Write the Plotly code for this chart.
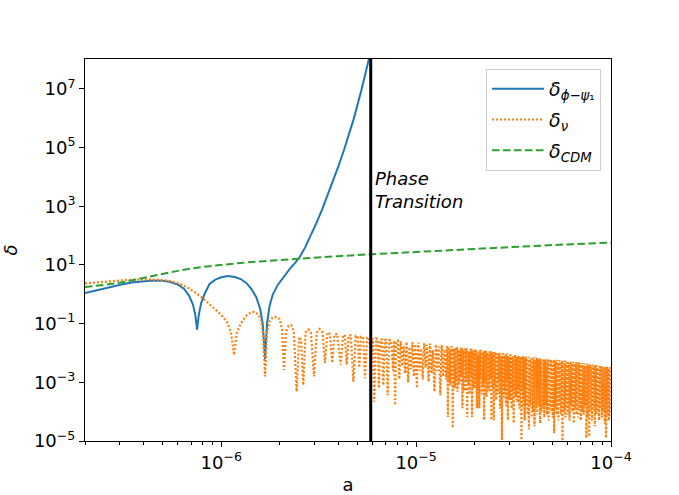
import numpy as np
import plotly.graph_objects as go

# values, stored as log10(a), log10(delta)
blue_log_a = [-6.699, -6.65, -6.60, -6.55, -6.50, -6.45, -6.40, -6.35, -6.30, -6.26,
              -6.22, -6.19, -6.165, -6.145, -6.133, -6.124, -6.115, -6.103, -6.085, -6.06,
              -6.03, -6.00, -5.965, -5.93, -5.90, -5.87, -5.845, -5.82, -5.80, -5.787,
              -5.775, -5.765, -5.752, -5.735, -5.71, -5.68, -5.65, -5.62, -5.60, -5.57,
              -5.54, -5.51, -5.48, -5.44, -5.40, -5.37, -5.32, -5.28, -5.242, -5.232]
blue_log_delta = [0.04, 0.12, 0.20, 0.28, 0.35, 0.41, 0.45, 0.47, 0.46, 0.42,
                  0.32, 0.18, -0.05, -0.35, -0.70, -1.20, -0.70, -0.30, 0.02, 0.35,
                  0.50, 0.58, 0.62, 0.59, 0.52, 0.38, 0.18, -0.10, -0.50, -1.00,
                  -2.20, -1.00, -0.40, 0.00, 0.32, 0.60, 0.85, 1.08, 1.24, 1.59,
                  2.00, 2.45, 2.93, 3.62, 4.34, 4.92, 5.98, 6.98, 7.99, 8.30]

green_log_a = [-6.699, -6.60, -6.50, -6.40, -6.30, -6.20, -6.10, -6.00, -5.90, -5.80, -5.70,
               -5.60, -5.50, -5.40, -5.30, -5.20, -5.00, -4.80, -4.60, -4.40, -4.20, -4.00]
green_log_delta = [0.25, 0.32, 0.42, 0.55, 0.70, 0.83, 0.93, 1.01, 1.07, 1.12, 1.17,
                   1.22, 1.26, 1.30, 1.34, 1.37, 1.44, 1.51, 1.58, 1.65, 1.71, 1.76]

nu_early = [
    (-6.699, 0.37), (-6.60, 0.43), (-6.50, 0.48), (-6.40, 0.51), (-6.33, 0.50), (-6.27, 0.46),
    (-6.22, 0.38), (-6.17, 0.22), (-6.12, 0.00), (-6.08, -0.22), (-6.04, -0.45), (-6.00, -0.70),
    (-5.97, -0.95), (-5.95, -1.30), (-5.934, -2.07), (-5.92, -1.30), (-5.90, -1.00), (-5.875, -0.75),
    (-5.85, -0.62), (-5.83, -0.60), (-5.81, -0.68), (-5.795, -0.90), (-5.785, -1.40), (-5.775, -2.80),
    (-5.765, -1.30), (-5.75, -0.90), (-5.735, -0.78), (-5.715, -0.77), (-5.70, -0.85), (-5.688, -1.20),
    (-5.678, -2.58), (-5.668, -1.30), (-5.655, -1.08), (-5.64, -1.05), (-5.628, -1.25), (-5.613, -3.32),
    (-5.60, -1.45), (-5.59, -1.60), (-5.579, -3.10), (-5.567, -1.30), (-5.553, -1.20), (-5.54, -1.30),
    (-5.524, -2.80), (-5.51, -1.30), (-5.495, -1.18), (-5.48, -1.30), (-5.468, -2.34), (-5.455, -1.30),
    (-5.443, -1.35), (-5.43, -2.34), (-5.42, -1.38), (-5.405, -1.35), (-5.387, -2.40), (-5.375, -1.38),
    (-5.365, -1.42), (-5.356, -2.40), (-5.346, -1.40), (-5.335, -1.40), (-5.322, -2.98), (-5.31, -1.42),
    (-5.30, -1.45), (-5.292, -2.50), (-5.283, -1.45), (-5.272, -1.46), (-5.262, -2.86), (-5.252, -1.48),
    (-5.242, -1.48), (-5.23, -2.20), (-5.222, -1.50), (-5.215, -3.66), (-5.206, -1.50), (-5.197, -1.52),
    (-5.191, -3.20), (-5.184, -1.55), (-5.175, -1.54), (-5.168, -3.10), (-5.16, -1.56), (-5.153, -1.55),
    (-5.146, -3.44), (-5.138, -1.57), (-5.128, -1.57), (-5.118, -2.60), (-5.113, -1.58), (-5.108, -3.78),
    (-5.102, -1.60), (-5.094, -1.58), (-5.086, -2.90),
]

nu_mid = [
    (-5.079, -1.59), (-5.071, -2.45), (-5.064, -1.75), (-5.056, -2.70), (-5.049, -1.62), (-5.041, -3.00),
    (-5.034, -1.80), (-5.026, -2.55), (-5.019, -1.63), (-5.011, -2.80), (-5.004, -1.70), (-4.996, -3.20),
    (-4.989, -1.64), (-4.981, -2.60), (-4.974, -1.85), (-4.966, -2.90), (-4.959, -1.67), (-4.951, -2.50),
    (-4.944, -1.72), (-4.936, -2.98), (-4.929, -1.68), (-4.921, -2.70), (-4.914, -1.90), (-4.906, -3.32),
    (-4.899, -1.71), (-4.891, -2.60), (-4.884, -1.78), (-4.876, -3.44), (-4.869, -1.73), (-4.861, -2.80),
    (-4.854, -1.88), (-4.846, -2.90),
    (-4.8400, -1.75), (-4.8369, -4.18), (-4.8338, -1.80), (-4.8307, -3.00),
    (-4.8276, -1.90), (-4.8245, -3.10), (-4.8214, -1.78), (-4.8183, -2.80),
    (-4.8152, -1.77), (-4.8121, -4.56), (-4.8090, -1.84), (-4.8059, -3.20),
    (-4.8028, -1.85), (-4.7997, -3.20), (-4.7966, -1.80), (-4.7935, -2.90),
    (-4.7904, -1.79), (-4.7873, -3.32), (-4.7842, -1.88), (-4.7811, -3.10),
    (-4.7780, -1.95), (-4.7749, -3.00), (-4.7718, -1.82), (-4.7687, -2.80),
    (-4.7656, -1.81), (-4.7625, -3.88), (-4.7594, -1.90), (-4.7563, -3.30),
    (-4.7532, -1.88), (-4.7501, -3.30), (-4.7470, -1.84), (-4.7439, -2.90),
    (-4.7408, -1.83), (-4.7377, -4.18), (-4.7346, -1.92), (-4.7315, -3.10),
    (-4.7284, -2.00), (-4.7253, -3.40), (-4.7222, -1.86), (-4.7191, -2.80),
    (-4.7160, -1.85), (-4.7129, -4.18), (-4.7098, -1.94), (-4.7067, -3.20),
    (-4.7036, -1.92), (-4.7005, -3.20), (-4.6974, -1.88), (-4.6943, -3.00),
    (-4.6912, -1.87), (-4.6881, -3.88), (-4.6850, -1.96), (-4.6819, -3.30),
    (-4.6788, -2.05), (-4.6757, -3.88), (-4.6726, -1.90), (-4.6695, -2.90),
    (-4.6664, -1.89), (-4.6633, -3.40), (-4.6602, -1.98), (-4.6571, -3.10),
    (-4.6540, -1.95), (-4.6509, -4.29), (-4.6478, -1.92), (-4.6447, -3.00),
    (-4.6416, -1.91), (-4.6385, -3.50), (-4.6354, -2.00), (-4.6323, -3.30),
    (-4.6292, -2.05), (-4.6261, -3.30), (-4.6230, -1.94), (-4.6199, -2.90),
    (-4.6168, -1.94), (-4.6137, -4.29), (-4.6106, -2.02), (-4.6075, -3.20),
    (-4.6044, -1.97), (-4.6013, -4.29), (-4.5982, -1.97), (-4.5951, -3.10),
    (-4.5920, -1.97), (-4.5895, -3.60), (-4.5870, -2.03), (-4.5845, -3.20),
    (-4.5820, -2.10), (-4.5795, -3.40), (-4.5770, -2.00), (-4.5745, -3.00),
    (-4.5720, -1.99), (-4.5695, -3.90), (-4.5670, -2.06), (-4.5645, -3.40),
    (-4.5620, -2.15), (-4.5595, -4.97), (-4.5570, -2.02), (-4.5545, -3.10),
    (-4.5520, -2.00), (-4.5495, -3.50), (-4.5470, -2.08), (-4.5445, -3.30),
    (-4.5420, -2.08), (-4.5395, -3.80), (-4.5370, -2.04), (-4.5345, -3.00),
    (-4.5320, -2.02), (-4.5295, -4.29), (-4.5270, -2.10), (-4.5245, -3.50),
    (-4.5220, -2.20), (-4.5195, -3.60), (-4.5170, -2.06), (-4.5145, -3.20),
    (-4.5120, -2.04), (-4.5095, -3.90), (-4.5070, -2.12), (-4.5045, -3.30),
    (-4.5020, -2.12), (-4.4995, -4.39), (-4.4970, -2.08), (-4.4945, -3.10),
    (-4.4920, -2.06), (-4.4895, -3.50), (-4.4870, -2.13), (-4.4845, -3.60),
    (-4.4820, -2.18), (-4.4795, -3.70), (-4.4770, -2.10), (-4.4745, -3.20),
    (-4.4720, -2.09), (-4.4695, -3.90), (-4.4670, -2.14), (-4.4645, -3.40),
    (-4.4620, -2.11), (-4.4595, -4.97), (-4.4570, -2.11), (-4.4545, -3.30),
]

# densest stretch, a > 3.5e-5
nu_dense = [
    (-4.4520, -2.11), (-4.4502, -3.90), (-4.4484, -2.16), (-4.4466, -3.60),
    (-4.4448, -2.25), (-4.4430, -4.30), (-4.4412, -2.13), (-4.4394, -3.40),
    (-4.4376, -2.12), (-4.4358, -3.70), (-4.4340, -2.20), (-4.4322, -3.80),
    (-4.4304, -2.18), (-4.4286, -4.10), (-4.4268, -2.14), (-4.4250, -3.50),
    (-4.4232, -2.13), (-4.4214, -4.60), (-4.4196, -2.22), (-4.4178, -3.70),
    (-4.4160, -2.30), (-4.4142, -3.80), (-4.4124, -2.15), (-4.4106, -3.30),
    (-4.4088, -2.14), (-4.4070, -4.20), (-4.4052, -2.21), (-4.4034, -3.90),
    (-4.4016, -2.20), (-4.3998, -4.00), (-4.3980, -2.16), (-4.3962, -3.50),
    (-4.3944, -2.15), (-4.3926, -4.50), (-4.3908, -2.24), (-4.3890, -3.60),
    (-4.3872, -2.28), (-4.3854, -3.90), (-4.3836, -2.17), (-4.3818, -3.40),
    (-4.3800, -2.16), (-4.3782, -4.10), (-4.3764, -2.25), (-4.3746, -3.80),
    (-4.3728, -2.22), (-4.3710, -3.80), (-4.3692, -2.18), (-4.3674, -3.50),
    (-4.3656, -2.17), (-4.3638, -4.40), (-4.3620, -2.26), (-4.3602, -3.70),
    (-4.3584, -2.35), (-4.3566, -4.00), (-4.3548, -2.19), (-4.3530, -3.30),
    (-4.3512, -2.18), (-4.3494, -3.90), (-4.3476, -2.27), (-4.3458, -3.90),
    (-4.3440, -2.24), (-4.3422, -4.20), (-4.3404, -2.20), (-4.3386, -3.50),
    (-4.3368, -2.19), (-4.3350, -3.80), (-4.3332, -2.29), (-4.3314, -3.60),
    (-4.3296, -2.30), (-4.3278, -4.10), (-4.3260, -2.21), (-4.3242, -3.40),
    (-4.3224, -2.20), (-4.3206, -4.30), (-4.3188, -2.30), (-4.3170, -3.80),
    (-4.3152, -2.26), (-4.3134, -3.90), (-4.3116, -2.22), (-4.3098, -3.50),
    (-4.3080, -2.21), (-4.3062, -4.00), (-4.3044, -2.31), (-4.3026, -3.70),
    (-4.3008, -2.40), (-4.2990, -4.20), (-4.2972, -2.23), (-4.2954, -3.30),
    (-4.2936, -2.22), (-4.2918, -4.73), (-4.2900, -2.32), (-4.2882, -3.90),
    (-4.2864, -2.28), (-4.2846, -3.90), (-4.2828, -2.24), (-4.2810, -3.50),
    (-4.2792, -2.23), (-4.2774, -4.10), (-4.2756, -2.33), (-4.2738, -3.60),
    (-4.2720, -2.33), (-4.2702, -4.30), (-4.2684, -2.25), (-4.2666, -3.40),
    (-4.2648, -2.24), (-4.2630, -3.80), (-4.2612, -2.34), (-4.2594, -3.80),
    (-4.2576, -2.30), (-4.2558, -4.10), (-4.2540, -2.26), (-4.2522, -3.50),
    (-4.2504, -2.25), (-4.2486, -5.00), (-4.2468, -2.35), (-4.2450, -3.70),
    (-4.2432, -2.38), (-4.2414, -4.00), (-4.2396, -2.27), (-4.2378, -3.30),
    (-4.2360, -2.26), (-4.2342, -4.20), (-4.2324, -2.36), (-4.2306, -3.90),
    (-4.2288, -2.32), (-4.2270, -3.90), (-4.2252, -2.28), (-4.2234, -3.50),
    (-4.2216, -2.27), (-4.2198, -4.10), (-4.2180, -2.37), (-4.2162, -3.60),
    (-4.2144, -2.42), (-4.2126, -4.30), (-4.2108, -2.29), (-4.2090, -3.40),
    (-4.2072, -2.28), (-4.2054, -3.80), (-4.2036, -2.38), (-4.2018, -3.80),
    (-4.2000, -2.34), (-4.1982, -4.00), (-4.1964, -2.30), (-4.1946, -3.50),
    (-4.1928, -2.30), (-4.1910, -4.40), (-4.1892, -2.40), (-4.1874, -3.70),
    (-4.1856, -2.37), (-4.1838, -3.90), (-4.1820, -2.32), (-4.1802, -3.30),
    (-4.1784, -2.31), (-4.1766, -4.10), (-4.1748, -2.41), (-4.1730, -3.90),
    (-4.1712, -2.45), (-4.1694, -4.20), (-4.1676, -2.33), (-4.1658, -3.50),
    (-4.1640, -2.32), (-4.1622, -3.90), (-4.1604, -2.42), (-4.1586, -3.60),
    (-4.1568, -2.38), (-4.1550, -4.30), (-4.1532, -2.35), (-4.1514, -3.40),
    (-4.1496, -2.34), (-4.1478, -4.00), (-4.1460, -2.44), (-4.1442, -3.80),
    (-4.1424, -2.41), (-4.1406, -4.10), (-4.1388, -2.36), (-4.1370, -3.50),
    (-4.1352, -2.35), (-4.1334, -3.80), (-4.1316, -2.45), (-4.1298, -3.70),
    (-4.1280, -2.47), (-4.1262, -4.90), (-4.1244, -2.37), (-4.1226, -3.30),
    (-4.1208, -2.37), (-4.1190, -4.20), (-4.1172, -2.46), (-4.1154, -3.90),
    (-4.1136, -2.42), (-4.1118, -4.85), (-4.1100, -2.39), (-4.1082, -3.50),
    (-4.1064, -2.38), (-4.1046, -4.00), (-4.1028, -2.48), (-4.1010, -3.60),
    (-4.0992, -2.50), (-4.0974, -4.30), (-4.0956, -2.40), (-4.0938, -3.40),
    (-4.0920, -2.40), (-4.0902, -3.90), (-4.0884, -2.49), (-4.0866, -3.80),
    (-4.0848, -2.44), (-4.0830, -4.50), (-4.0812, -2.41), (-4.0794, -3.50),
    (-4.0776, -2.41), (-4.0758, -4.10), (-4.0740, -2.50), (-4.0722, -3.70),
    (-4.0704, -2.52), (-4.0686, -4.00), (-4.0668, -2.43), (-4.0650, -3.30),
    (-4.0632, -2.43), (-4.0614, -4.30), (-4.0596, -2.52), (-4.0578, -3.90),
    (-4.0560, -2.47), (-4.0542, -3.90), (-4.0524, -2.44), (-4.0506, -3.50),
    (-4.0488, -2.44), (-4.0470, -4.20), (-4.0452, -2.53), (-4.0434, -3.60),
    (-4.0416, -2.55), (-4.0398, -4.00), (-4.0380, -2.46), (-4.0362, -3.40),
    (-4.0344, -2.46), (-4.0326, -4.40), (-4.0308, -2.54), (-4.0290, -3.80),
    (-4.0272, -2.50), (-4.0254, -4.90), (-4.0236, -2.47), (-4.0218, -3.50),
    (-4.0200, -2.47), (-4.0182, -4.10), (-4.0164, -2.56), (-4.0146, -3.70),
    (-4.0128, -2.53), (-4.0110, -4.30), (-4.0092, -2.49), (-4.0074, -3.30),
    (-4.0056, -2.49), (-4.0038, -4.00), (-4.0020, -2.57), (-4.0002, -3.90),
    (-3.9984, -2.50), (-3.9966, -4.20),
]

transition_a = 5.85e-6

x_ticks = [1e-6, 1e-5, 1e-4]
x_tick_text = ["10<sup>\u22126</sup>", "10<sup>\u22125</sup>", "10<sup>\u22124</sup>"]
y_ticks = [1e-5, 1e-3, 1e-1, 1e1, 1e3, 1e5, 1e7]
y_tick_text = ["10<sup>\u22125</sup>", "10<sup>\u22123</sup>", "10<sup>\u22121</sup>",
               "10<sup>1</sup>", "10<sup>3</sup>", "10<sup>5</sup>", "10<sup>7</sup>"]

nu_all = nu_early + nu_mid + nu_dense
nu_log_a = [p[0] for p in nu_all]
nu_log_delta = [p[1] for p in nu_all]

fig = go.Figure()
fig.add_trace(go.Scatter(x=np.power(10.0, blue_log_a), y=np.power(10.0, blue_log_delta),
                         mode="lines", line=dict(color="#1f77b4", width=2),
                         legendgroup="phi",
                         name="<i>δ</i><sub><i>ϕ</i>\u2212<i>ψ</i>\u2081</sub>"))
fig.add_trace(go.Scatter(x=np.power(10.0, nu_log_a), y=np.power(10.0, nu_log_delta),
                         mode="lines", line=dict(color="#ff7f0e", width=2.2, dash="2px,2px"),
                         legendgroup="nu", name="<i>δ</i><sub><i>ν</i></sub>"))
fig.add_trace(go.Scatter(x=np.power(10.0, green_log_a), y=np.power(10.0, green_log_delta),
                         mode="lines", line=dict(color="#2ca02c", width=2, dash="7.5px,3.5px"),
                         legendgroup="cdm", name="<i>δ</i><sub><i>CDM</i></sub>"))

# phase transition marker
fig.add_trace(go.Scatter(x=[transition_a, transition_a], y=[1e-6, 1e9], mode="lines",
                         line=dict(color="black", width=3), showlegend=False,
                         hoverinfo="skip"))
fig.add_annotation(x=np.log10(transition_a), y=3.55, xref="x", yref="y",
                   text="<i>Phase</i><br><i>Transition</i>", showarrow=False,
                   xanchor="left", yanchor="middle", xshift=2, align="left",
                   font=dict(size=18, color="black"))

minor_x = [m * 10.0 ** e for e in (-7, -6, -5) for m in range(2, 10)]

fig.update_layout(
    width=679, height=495,
    margin=dict(l=85, r=68, t=59, b=54),
    paper_bgcolor="white", plot_bgcolor="white",
    font=dict(family="DejaVu Sans", size=18, color="black"),
    showlegend=True,
    legend=dict(x=0.981, y=0.974, xanchor="right", yanchor="top",
                bgcolor="rgba(255,255,255,0.8)", bordercolor="#cccccc", borderwidth=1,
                font=dict(size=19), itemwidth=52, tracegroupgap=3),
    xaxis=dict(type="log", range=[np.log10(2e-7), -4], automargin=False,
               tickmode="array", tickvals=x_ticks, ticktext=x_tick_text,
               ticks="outside", ticklen=5, tickwidth=1, tickcolor="black",
               minor=dict(tickmode="array", tickvals=minor_x, ticks="outside",
                          ticklen=3, tickwidth=1, tickcolor="black", showgrid=False),
               showgrid=False, zeroline=False, showline=True, linecolor="black",
               linewidth=1, mirror=True,
               title=dict(text="a", standoff=14, font=dict(size=18))),
    yaxis=dict(type="log", range=[-5, 8.02], automargin=False,
               tickmode="array", tickvals=y_ticks, ticktext=y_tick_text,
               ticks="outside", ticklen=5, tickwidth=1, tickcolor="black",
               showgrid=False, zeroline=False, showline=True, linecolor="black",
               linewidth=1, mirror=True,
               title=dict(text="<i>δ</i>", standoff=14, font=dict(size=18))),
)

fig.write_html("out.html", config={"displayModeBar": False},
               post_script="document.body.style.margin='0';")
